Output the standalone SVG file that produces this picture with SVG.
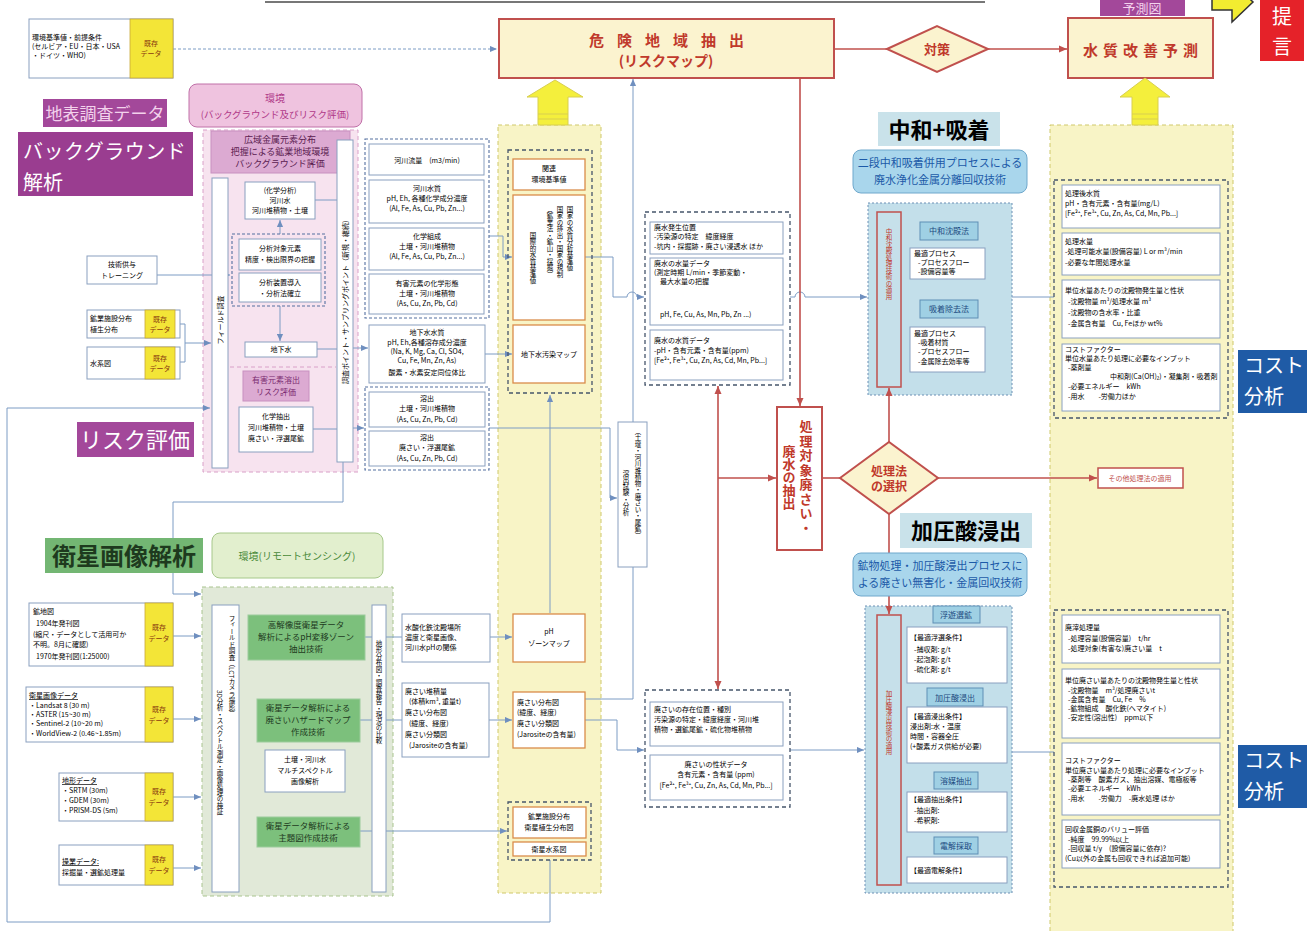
<svg xmlns="http://www.w3.org/2000/svg" width="1314" height="931" viewBox="0 0 1314 931">
<defs>
<style>
svg{font-family:"Noto Sans CJK JP","Noto Sans",sans-serif;font-size:7px}
text{font-family:"Noto Sans CJK JP","Noto Sans",sans-serif}
.m{text-anchor:middle}
.b{fill:#fff;stroke:#8aa0bf;stroke-width:1}
.o{fill:#fff;stroke:#d98c4a;stroke-width:1.3}
.y{fill:#f3e537;stroke:#c8a838;stroke-width:.8}
.yt{fill:#8a3a10;font-size:7px;text-anchor:middle}
.dg{fill:none;stroke:#45556b;stroke-width:1.3;stroke-dasharray:4 3}
.db{fill:none;stroke:#5570a0;stroke-width:1.1;stroke-dasharray:3 2}
.bl{fill:none;stroke:#7d9cc4;stroke-width:1}
.rl{fill:none;stroke:#c0504d;stroke-width:1.6}
.rb{fill:#fbf3cf;stroke:#c0504d;stroke-width:2}
.rt{fill:#c0392b;font-weight:bold}
.lb{fill:#9fd0e4;stroke:#5f8fb5;stroke-width:1}
.lt{fill:#1c4a80;font-size:8px;text-anchor:middle}
.gb{fill:#7cc07c;stroke:#9ccc9c;stroke-width:1}
.gt{fill:#1e3a1e;font-size:8.5px;text-anchor:middle}
.v{writing-mode:vertical-rl}
.u{text-decoration:underline}
.ya{fill:#f4ef3c;stroke:#d8cf50;stroke-width:1}
</style>
<marker id="ab" markerUnits="userSpaceOnUse" viewBox="0 0 8 8" refX="8" refY="4" markerWidth="7" markerHeight="7" orient="auto"><path d="M0,0.5L8,4L0,7.5z" fill="#6f8fbf"/></marker>
<marker id="ar" markerUnits="userSpaceOnUse" viewBox="0 0 8 8" refX="8" refY="4" markerWidth="8" markerHeight="8" orient="auto"><path d="M0,0.5L8,4L0,7.5z" fill="#c0504d"/></marker>
</defs>
<rect width="1314" height="931" fill="#fff"/>
<line x1="265" y1="2" x2="985" y2="2" stroke="#777" stroke-width="2"/>

<!-- background regions -->
<g id="region-pink"><rect x="203" y="130" width="155" height="342" fill="#f7e3ef" stroke="#d9a0c8" stroke-dasharray="4 3"/><line x1="230" y1="367" x2="336" y2="367" stroke="#d9a0c8" stroke-dasharray="4 3"/></g>
<g id="region-yellow-mid"><rect x="498" y="125" width="103" height="768" fill="#f8f4c6" stroke="#cfc86a" stroke-dasharray="4 3"/></g>
<g id="region-yellow-right"><rect x="1050" y="125" width="183" height="815" fill="#f8f4c6" stroke="#cfc86a" stroke-dasharray="4 3"/></g>
<g id="region-green"><rect x="202" y="587" width="191" height="309" fill="#e1e9d8" stroke="#a9c48f" stroke-dasharray="4 3"/></g>
<g id="region-blue1"><rect x="868" y="203" width="144" height="192" fill="#c3dfea" stroke="#6d90b5" stroke-dasharray="2 2"/></g>
<g id="region-blue2"><rect x="865" y="606" width="147" height="287" fill="#c3dfea" stroke="#6d90b5" stroke-dasharray="2 2"/></g>

<!-- connectors -->
<g id="connectors">
<path class="bl" d="M173,49H497" stroke-dasharray="3 2" marker-end="url(#ab)"/>
<path class="bl" d="M157,275H230" marker-end="url(#ab)"/>
<path class="bl" d="M180,324H185V362H180M185,343H211" marker-end="url(#ab)"/>
<path class="bl" d="M550,860V922H7V408H210" marker-end="url(#ab)"/>
<path class="bl" d="M343,462V502H173V594H201" marker-end="url(#ab)"/>
<path class="bl" d="M173,636H201" marker-end="url(#ab)"/>
<path class="bl" d="M173,719H201" marker-end="url(#ab)"/>
<path class="bl" d="M173,797H201" marker-end="url(#ab)"/>
<path class="bl" d="M173,868H201" marker-end="url(#ab)"/>
<path class="bl" d="M280,234V220" marker-end="url(#ab)"/>
<path class="bl" d="M280,306V341" marker-end="url(#ab)"/>
<path class="bl" d="M317,349H337M313,429H337M315,200H337"/>
<path class="bl" d="M353,348H368" marker-end="url(#ab)"/>
<path class="bl" d="M353,428H364" marker-end="url(#ab)"/>
<path class="bl" d="M485,354H512" marker-end="url(#ab)"/>
<path class="bl" d="M489,236H503V257H512" marker-end="url(#ab)"/>
<path class="bl" d="M489,428H610V498H617" marker-end="url(#ab)"/>
<path class="bl" d="M550,613V395" marker-end="url(#ab)"/>
<path class="bl" d="M585,257H613V297H627a5,5 0 0 1 10,0H644" marker-end="url(#ab)"/>
<path class="bl" d="M585,699H633V79" marker-end="url(#ab)"/>
<path class="bl" d="M585,720H617V750H644" marker-end="url(#ab)"/>
<path class="bl" d="M365,637H402M490,637H512" marker-end="url(#ab)"/>
<path class="bl" d="M360,720H402M489,720H512" marker-end="url(#ab)"/>
<path class="bl" d="M360,831H507" marker-end="url(#ab)"/>
<path class="bl" d="M790,297H795a5,5 0 0 1 10,0H867" marker-end="url(#ab)"/>
<path class="bl" d="M790,750H864" marker-end="url(#ab)"/>
<path class="bl" d="M1012,297H1054M1012,752H1054"/>
<path class="rl" d="M834,49H887"/>
<path class="rl" d="M988,49H1067" marker-end="url(#ar)"/>
<path class="rl" d="M800,78V406" marker-end="url(#ar)"/>
<path class="rl" d="M718,478H776" marker-end="url(#ar)"/>
<path class="rl" d="M718,478V386" marker-end="url(#ar)"/>
<path class="rl" d="M718,478V689" marker-end="url(#ar)"/>
<path class="rl" d="M822,478H840"/>
<path class="rl" d="M889,442V388" marker-end="url(#ar)"/>
<path class="rl" d="M889,514V614" marker-end="url(#ar)"/>
<path class="rl" d="M938,478H1097" marker-end="url(#ar)"/>
</g>

<!-- top row -->
<g id="env-standards"><rect class="b" x="29" y="19" width="144" height="59"/><rect class="y" x="130" y="19" width="43" height="59"/>
<text x="32" y="40">環境基準値・前提条件</text><text x="32" y="49">(セルビア・EU・日本・USA</text><text x="32" y="58">・ドイツ・WHO)</text>
<text class="yt" x="151" y="46">既存</text><text class="yt" x="151" y="56">データ</text></g>
<g id="risk-map"><rect class="rb" x="499" y="19" width="335" height="59"/><text class="m rt" x="673" y="46" font-size="15" letter-spacing="13">危険地域抽出</text><text class="m rt" x="666" y="66" font-size="14">(リスクマップ)</text></g>
<g id="taisaku"><polygon points="887,49 937,26 988,49 937,72" fill="#fbf3cf" stroke="#c0504d" stroke-width="2"/><text class="m rt" x="937" y="54" font-size="13">対策</text></g>
<g id="water-forecast"><rect class="rb" x="1068" y="18" width="145" height="60"/><text class="m rt" x="1143" y="56" font-size="15" letter-spacing="5">水質改善予測</text></g>
<g id="yosokuzu"><rect x="1100" y="-2" width="85" height="18" fill="#a3489a"/><text class="m" x="1142" y="13" font-size="13" fill="#f3d2ec">予測図</text></g>
<g id="arrow-right"><polygon points="1212,-12 1232,-12 1232,-18 1253,2 1232,22 1232,10 1212,10" fill="#f2ec30" stroke="#333" stroke-width="1.5"/></g>
<g id="teigen"><rect x="1260" y="-2" width="44" height="63" fill="#e52229"/><text class="m" x="1282" y="24" font-size="20" fill="#fff">提</text><text class="m" x="1282" y="54" font-size="20" fill="#fff">言</text></g>
<g id="up-arrow-1"><polygon class="ya" points="555,80 583,97 568,97 568,125 538,125 538,97 527,97"/><line x1="538" y1="114" x2="568" y2="114" stroke="#d8cf50"/><line x1="538" y1="119" x2="568" y2="119" stroke="#d8cf50"/></g>
<g id="up-arrow-2"><polygon class="ya" points="1145,78 1170,97 1158,97 1158,125 1132,125 1132,97 1120,97"/><line x1="1132" y1="114" x2="1158" y2="114" stroke="#d8cf50"/><line x1="1132" y1="119" x2="1158" y2="119" stroke="#d8cf50"/></g>

<!-- left labels -->
<g id="lbl-chihyo"><rect x="43" y="99" width="124" height="28" fill="#a3489a"/><text class="m" x="105" y="120" font-size="17" fill="#f3d2ec">地表調査データ</text></g>
<g id="lbl-bg"><rect x="18" y="132" width="175" height="64" fill="#9a3d90"/><text x="23" y="159" font-size="20" fill="#fff" letter-spacing="0.5">バックグラウンド</text><text x="23" y="190" font-size="20" fill="#fff">解析</text></g>
<g id="lbl-risk"><rect x="77" y="422" width="117" height="35" fill="#a3489a"/><text class="m" x="135" y="448" font-size="22" fill="#fff">リスク評価</text></g>
<g id="env-bg"><rect x="189" y="84" width="173" height="43" rx="8" fill="#efc3df" stroke="#c070a8"/><text class="m" x="275" y="102" font-size="10" fill="#b03888">環境</text><text class="m" x="275" y="118" font-size="9.5" fill="#b03888">(バックグラウンド及びリスク評価)</text></g>

<g id="gijutsu"><rect class="b" x="87" y="256" width="70" height="28"/><text class="m" x="122" y="267">技術供与</text><text class="m" x="122" y="278">トレーニング</text></g>
<g id="kogyo-shisetsu"><rect class="b" x="87" y="310" width="93" height="28"/><rect class="y" x="145" y="310" width="30" height="28"/><text x="90" y="321">鉱業施設分布</text><text x="90" y="332">植生分布</text><text class="yt" x="160" y="322">既存</text><text class="yt" x="160" y="332">データ</text></g>
<g id="suikeizu"><rect class="b" x="87" y="347" width="93" height="32"/><rect class="y" x="145" y="347" width="30" height="32"/><text x="90" y="366">水系図</text><text class="yt" x="160" y="361">既存</text><text class="yt" x="160" y="371">データ</text></g>

<!-- pink region nodes -->
<g id="koiki"><rect x="211" y="131" width="139" height="42" fill="#dcaad2" stroke="#c890c0"/><text class="m" x="280" y="143" font-size="9" fill="#5a2050">広域金属元素分布</text><text class="m" x="280" y="155" font-size="9" fill="#5a2050">把握による鉱業地域環境</text><text class="m" x="280" y="167" font-size="9" fill="#5a2050">バックグラウンド評価</text></g>
<g id="field-bar"><rect class="b" x="212" y="178" width="16" height="290"/><text class="m" transform="translate(223,320) rotate(-90)">フィールド調査</text></g>
<g id="kagaku-bunseki"><rect class="b" x="245" y="182" width="70" height="37"/><text class="m" x="280" y="193">(化学分析)</text><text class="m" x="280" y="203">河川水</text><text class="m" x="280" y="213">河川堆積物・土壌</text></g>
<g id="bunseki-group"><rect class="db" x="232" y="234" width="93" height="72"/><rect class="b" x="239" y="239" width="82" height="31"/><text class="m" x="280" y="251">分析対象元素</text><text class="m" x="280" y="262">精度・検出限界の把握</text><rect class="b" x="239" y="273" width="82" height="29"/><text class="m" x="280" y="285">分析装置導入</text><text class="m" x="280" y="296">・分析法確立</text></g>
<g id="chikasui"><rect class="b" x="245" y="342" width="72" height="15"/><text class="m" x="281" y="352">地下水</text></g>
<g id="yugai-risk"><rect x="243" y="371" width="66" height="30" fill="#dcaad2" stroke="#c890c0"/><text class="m" x="276" y="383" font-size="8" fill="#7a2a70">有害元素溶出</text><text class="m" x="276" y="395" font-size="8" fill="#7a2a70">リスク評価</text></g>
<g id="kagaku-chushutsu"><rect class="b" x="239" y="407" width="74" height="45"/><text class="m" x="276" y="419">化学抽出</text><text class="m" x="276" y="430">河川堆積物・土壌</text><text class="m" x="276" y="441">廃さい・浮選尾鉱</text></g>
<g id="sample-bar"><rect class="b" x="337" y="140" width="16" height="322"/><text class="m" transform="translate(348,300) rotate(-90)">調査ポイント・サンプリングポイント（新規・継続）</text></g>

<!-- middle data -->
<g id="mid-group"><rect class="db" x="365" y="139" width="124" height="179"/>
<rect class="b" x="369" y="144" width="115" height="31"/><text class="m" x="427" y="163">河川流量　(m3/min)</text>
<rect class="b" x="369" y="180" width="115" height="43"/><text class="m" x="427" y="191">河川水質</text><text class="m" x="427" y="201">pH, Eh, 各種化学成分濃度</text><text class="m" x="427" y="211">(Al, Fe, As, Cu, Pb, Zn...)</text>
<rect class="b" x="369" y="228" width="115" height="42"/><text class="m" x="427" y="239">化学組成</text><text class="m" x="427" y="249">土壌・河川堆積物</text><text class="m" x="427" y="259">(Al, Fe, As, Cu, Pb, Zn...)</text>
<rect class="b" x="369" y="274" width="115" height="40"/><text class="m" x="427" y="286">有害元素の化学形態</text><text class="m" x="427" y="296">土壌・河川堆積物</text><text class="m" x="427" y="306">(As, Cu, Zn, Pb, Cd)</text></g>
<g id="chikasui-suishitsu"><rect class="b" x="369" y="325" width="116" height="58"/><text class="m" x="427" y="335">地下水水質</text><text class="m" x="427" y="345">pH, Eh,各種溶存成分濃度</text><text class="m" x="427" y="354">(Na, K, Mg, Ca, Cl, SO4,</text><text class="m" x="427" y="363">Cu, Fe, Mn, Zn, As)</text><text class="m" x="427" y="375">酸素・水素安定同位体比</text></g>
<g id="yoshutsu-group"><rect class="db" x="365" y="387" width="124" height="83"/>
<rect class="b" x="369" y="392" width="116" height="35"/><text class="m" x="427" y="401">溶出</text><text class="m" x="427" y="411">土壌・河川堆積物</text><text class="m" x="427" y="422">(As, Cu, Zn, Pb, Cd)</text>
<rect class="b" x="369" y="431" width="116" height="35"/><text class="m" x="427" y="440">溶出</text><text class="m" x="427" y="450">廃さい・浮選尾鉱</text><text class="m" x="427" y="461">(As, Cu, Zn, Pb, Cd)</text></g>

<!-- yellow mid column -->
<g id="kijun-group"><rect class="dg" x="508" y="150" width="84" height="243"/>
<rect class="o" x="513" y="159" width="72" height="31"/><text class="m" x="549" y="171">関連</text><text class="m" x="549" y="182">環境基準値</text>
<rect class="o" x="513" y="195" width="72" height="125"/>
<text class="v" x="570" y="206" font-size="6.5">国家の水質分析基準値</text>
<text class="v" x="560" y="206" font-size="6.5">国家の排出・国家の規制</text>
<text class="v" x="550" y="206" font-size="6.5">（鉱業法・鉱山・採掘）</text>
<text class="v" x="533" y="232" font-size="6.5">国際的水質基準値</text>
<rect class="o" x="513" y="325" width="72" height="58"/><text class="m" x="549" y="357">地下水汚染マップ</text></g>
<g id="ph-zone"><rect class="o" x="513" y="614" width="72" height="48"/><text class="m" x="549" y="634">pH</text><text class="m" x="549" y="646">ゾーンマップ</text></g>
<g id="haisai-map"><rect class="o" x="513" y="692" width="72" height="56"/><text x="517" y="705">廃さい分布図</text><text x="517" y="715">(緯度、経度)</text><text x="517" y="726">廃さい分類図</text><text x="517" y="737">(Jarositeの含有量)</text></g>
<g id="eisei-group"><rect class="dg" x="508" y="802" width="83" height="58"/><rect class="o" x="513" y="807" width="73" height="31"/><text class="m" x="549" y="819">鉱業施設分布</text><text class="m" x="549" y="830">衛星植生分布図</text><rect class="o" x="513" y="842" width="73" height="14"/><text class="m" x="549" y="852">衛星水系図</text></g>
<g id="yoshutsu-shiken"><rect class="b" x="618" y="422" width="29" height="145"/><text class="v" x="638" y="428" font-size="6.5">（土壌・河川堆積物・廃さい・尾鉱）</text><text class="v" x="626" y="470" font-size="6.5">溶出試験・分析</text></g>

<!-- haisui groups -->
<g id="haisui-group"><rect class="dg" x="645" y="212" width="145" height="173"/>
<rect class="b" x="650" y="222" width="133" height="32"/><text x="654" y="230">廃水発生位置</text><text x="654" y="239">-汚染源の特定　緯度経度</text><text x="654" y="249">-坑内・採掘跡・廃さい浸透水 ほか</text>
<rect class="b" x="650" y="258" width="133" height="67"/><text x="654" y="266">廃水の水量データ</text><text x="654" y="275">(測定時期 L/min・季節変動・</text><text x="660" y="284">最大水量の把握</text><text x="660" y="317">pH, Fe, Cu, As, Mn, Pb, Zn ...)</text>
<rect class="b" x="650" y="330" width="133" height="50"/><text x="654" y="343">廃水の水質データ</text><text x="654" y="353">-pH・含有元素・含有量(ppm)</text><text x="654" y="363">[Fe²⁺, Fe³⁺, Cu, Zn, As, Cd, Mn, Pb...]</text></g>
<g id="haisai-group"><rect class="dg" x="645" y="690" width="145" height="117"/>
<rect class="b" x="650" y="702" width="133" height="44"/><text x="654" y="712">廃さいの存在位置・種別</text><text x="654" y="722">汚染源の特定・緯度経度・河川堆</text><text x="654" y="732">積物・選鉱尾鉱・硫化物堆積物</text>
<rect class="b" x="650" y="755" width="133" height="45"/><text class="m" x="716" y="767">廃さいの性状データ</text><text class="m" x="716" y="777">含有元素・含有量 (ppm)</text><text class="m" x="716" y="788">[Fe²⁺, Fe³⁺, Cu, Zn, As, Cd, Mn, Pb...]</text></g>
<g id="shori-taisho"><rect x="777" y="407" width="45" height="143" fill="#fff" stroke="#c0504d" stroke-width="2"/><text class="v rt" x="806" y="420" font-size="13" letter-spacing="1.5">処理対象廃さい・</text><text class="v rt" x="789" y="445" font-size="13">廃水の抽出</text></g>
<g id="shoriho"><polygon points="840,478 889,442 938,478 889,514" fill="#fbf3cf" stroke="#c0504d" stroke-width="2"/><text class="m rt" x="889" y="476" font-size="12">処理法</text><text class="m rt" x="889" y="491" font-size="12">の選択</text></g>

<!-- neutralization -->
<g id="lbl-chuwa"><rect x="878" y="112" width="122" height="34" fill="#c9e2ea"/><text class="m" x="939" y="138" font-size="22" font-weight="bold">中和+吸着</text></g>
<g id="chuwa-tech"><rect x="853" y="150" width="174" height="43" rx="8" fill="#a9d6ec" stroke="#6fa8cc"/><text class="m" x="940" y="167" font-size="11" fill="#1c5aa8">二段中和吸着併用プロセスによる</text><text class="m" x="940" y="184" font-size="11" fill="#1c5aa8">廃水浄化金属分離回収技術</text></g>
<g id="chuwa-nodes"><rect x="877" y="212" width="24" height="175" fill="#c6e0ea" stroke="#c0504d" stroke-width="1.5"/><text class="v" x="889" y="228" font-size="6.5" fill="#c0392b">中和沈殿処理技術の適用</text>
<rect class="lb" x="920" y="222" width="58" height="18"/><text class="lt" x="949" y="234">中和沈殿法</text>
<rect class="b" x="910" y="248" width="75" height="31"/><text x="914" y="256">最適プロセス</text><text x="918" y="265">-プロセスフロー</text><text x="918" y="274">-設備容量等</text>
<rect class="lb" x="920" y="300" width="58" height="18"/><text class="lt" x="949" y="312">吸着除去法</text>
<rect class="b" x="910" y="327" width="75" height="45"/><text x="914" y="336">最適プロセス</text><text x="918" y="345">-吸着材質</text><text x="918" y="354">-プロセスフロー</text><text x="918" y="364">-金属除去効率等</text></g>

<!-- pressure leaching -->
<g id="lbl-kaatsu"><rect x="900" y="513" width="132" height="35" fill="#c9e2ea"/><text class="m" x="966" y="539" font-size="22" font-weight="bold">加圧酸浸出</text></g>
<g id="kaatsu-tech"><rect x="853" y="553" width="174" height="43" rx="8" fill="#a9d6ec" stroke="#6fa8cc"/><text class="m" x="940" y="570" font-size="11" fill="#1c5aa8">鉱物処理・加圧酸浸出プロセスに</text><text class="m" x="940" y="587" font-size="11" fill="#1c5aa8">よる廃さい無害化・金属回収技術</text></g>
<g id="kaatsu-nodes"><rect x="877" y="615" width="24" height="270" fill="#c6e0ea" stroke="#c0504d" stroke-width="1.5"/><text class="v" x="889" y="690" font-size="6.5" fill="#c0392b">加圧酸浸出技術の適用</text>
<rect class="lb" x="933" y="606" width="47" height="17"/><text class="lt" x="956" y="618">浮遊選鉱</text>
<rect class="b" x="907" y="627" width="100" height="56"/><text x="910" y="640">【最適浮選条件】</text><text x="914" y="652">-捕収剤: g/t</text><text x="914" y="662">-起泡剤: g/t</text><text x="914" y="672">-硫化剤: g/t</text>
<rect class="lb" x="927" y="688" width="56" height="18"/><text class="lt" x="955" y="701">加圧酸浸出</text>
<rect class="b" x="907" y="707" width="100" height="56"/><text x="910" y="719">【最適浸出条件】</text><text x="910" y="729">浸出剤:水・温度</text><text x="910" y="739">時間・容器全圧</text><text x="910" y="749">(+酸素ガス供給が必要)</text>
<rect class="lb" x="934" y="772" width="44" height="17"/><text class="lt" x="956" y="784">溶媒抽出</text>
<rect class="b" x="907" y="792" width="100" height="40"/><text x="910" y="802">【最適抽出条件】</text><text x="914" y="813">-抽出剤:</text><text x="914" y="823">-希釈剤:</text>
<rect class="lb" x="934" y="837" width="44" height="17"/><text class="lt" x="956" y="849">電解採取</text>
<rect class="b" x="907" y="857" width="100" height="26"/><text x="910" y="873">【最適電解条件】</text></g>

<!-- right column -->
<g id="right-group-1"><rect class="dg" x="1054" y="180" width="174" height="238"/>
<rect class="b" x="1062" y="185" width="158" height="43"/><text x="1065" y="196">処理後水質</text><text x="1065" y="206">pH・含有元素・含有量(mg/L)</text><text x="1065" y="216">[Fe²⁺, Fe³⁺, Cu, Zn, As, Cd, Mn, Pb...]</text>
<rect class="b" x="1062" y="233" width="158" height="42"/><text x="1065" y="244">処理水量</text><text x="1065" y="254"> -処理可能水量(設備容量) L or m³/min</text><text x="1065" y="265"> -必要な年間処理水量</text>
<rect class="b" x="1062" y="280" width="158" height="58"/><text x="1065" y="293">単位水量あたりの沈殿物発生量と性状</text><text x="1068" y="304">-沈殿物量 m³/処理水量 m³</text><text x="1068" y="315">-沈殿物の含水率・比重</text><text x="1068" y="326">-金属含有量　Cu, Feほか wt%</text>
<rect class="b" x="1062" y="344" width="158" height="67"/><text x="1065" y="352">コストファクター</text><text x="1065" y="361">単位水量あたり処理に必要なインプット</text><text x="1068" y="370">-薬剤量</text><text x="1110" y="379">中和剤(Ca(OH)₂)・凝集剤・吸着剤</text><text x="1068" y="389">-必要エネルギー　kWh</text><text x="1068" y="399">-用水　　-労働力ほか</text></g>
<g id="sonota"><rect x="1098" y="468" width="85" height="20" fill="#fff" stroke="#c0504d" stroke-width="1.5"/><text class="m" x="1140" y="481" fill="#c0504d">その他処理法の適用</text></g>
<g id="right-group-2"><rect class="dg" x="1054" y="610" width="174" height="277"/>
<rect class="b" x="1062" y="615" width="158" height="48"/><text x="1065" y="630">廃滓処理量</text><text x="1068" y="641">-処理容量(設備容量)　t/hr</text><text x="1068" y="651">-処理対象(有害な)廃さい量　t</text>
<rect class="b" x="1062" y="669" width="158" height="69"/><text x="1065" y="683">単位廃さい量あたりの沈殿物発生量と性状</text><text x="1068" y="693">-沈殿物量　m³/処理廃さいt</text><text x="1068" y="702">-金属含有量　Cu, Fe　%</text><text x="1068" y="711">-鉱物組成　酸化鉄(ヘマタイト)</text><text x="1068" y="720">-安定性(溶出性)　ppm以下</text>
<rect class="b" x="1062" y="743" width="158" height="72"/><text x="1065" y="763">コストファクター</text><text x="1065" y="773">単位廃さい量あたり処理に必要なインプット</text><text x="1068" y="782">-薬剤等　酸素ガス、抽出溶媒、電極板等</text><text x="1068" y="791">-必要エネルギー　kWh</text><text x="1068" y="801">-用水　　-労働力　-廃水処理 ほか</text>
<rect class="b" x="1062" y="820" width="158" height="48"/><text x="1065" y="832">回収金属銅のバリュー評価</text><text x="1068" y="842">-純度　99.99%以上</text><text x="1068" y="851">-回収量 t/y　(設備容量に依存)?</text><text x="1065" y="861">(Cu以外の金属も回収できれば追加可能)</text></g>
<g id="cost-1"><rect x="1238" y="350" width="69" height="63" fill="#1f5ba6"/><text x="1244" y="373" font-size="20" fill="#fff">コスト</text><text x="1244" y="404" font-size="20" fill="#fff">分析</text></g>
<g id="cost-2"><rect x="1238" y="745" width="69" height="63" fill="#1f5ba6"/><text x="1244" y="768" font-size="20" fill="#fff">コスト</text><text x="1244" y="799" font-size="20" fill="#fff">分析</text></g>

<!-- satellite section -->
<g id="lbl-eisei"><rect x="45" y="538" width="158" height="35" fill="#73b673"/><text class="m" x="124" y="565" font-size="24" font-weight="bold" fill="#1e3a1e">衛星画像解析</text></g>
<g id="env-rs"><rect x="212" y="533" width="171" height="45" rx="8" fill="#e2efce" stroke="#a6c88a"/><text class="m" x="297" y="560" font-size="10" fill="#4a8a3a">環境(リモートセンシング)</text></g>
<g id="rs-left-bar"><rect class="b" x="212" y="605" width="27" height="287"/><text class="v" x="232" y="615" font-size="6.5">フィールド調査（LCTカメラ撮影）</text><text class="v" x="220" y="690" font-size="6.5">3D分析・スペクトル測定・画像処理の検証</text></g>
<g id="rs-right-bar"><rect class="b" x="372" y="605" width="14" height="287"/><text class="v" x="379" y="640" font-size="6.5">地形分布図・調査報告・現況の比較</text></g>
<g id="rs-ph"><rect class="gb" x="248" y="615" width="117" height="45"/><text class="gt" x="306" y="628">高解像度衛星データ</text><text class="gt" x="306" y="640">解析によるpH変移ゾーン</text><text class="gt" x="306" y="652">抽出技術</text></g>
<g id="rs-hazard"><rect class="gb" x="257" y="699" width="103" height="43"/><text class="gt" x="308" y="711">衛星データ解析による</text><text class="gt" x="308" y="723">廃さいハザードマップ</text><text class="gt" x="308" y="735">作成技術</text></g>
<g id="rs-multi"><rect class="b" x="265" y="750" width="80" height="42"/><text class="m" x="305" y="762">土壌・河川水</text><text class="m" x="305" y="773">マルチスペクトル</text><text class="m" x="305" y="784">画像解析</text></g>
<g id="rs-thematic"><rect class="gb" x="257" y="817" width="103" height="30"/><text class="gt" x="308" y="829">衛星データ解析による</text><text class="gt" x="308" y="841">主題図作成技術</text></g>
<g id="suisanka"><rect class="b" x="402" y="614" width="88" height="48"/><text x="405" y="630">水酸化鉄沈殿場所</text><text x="405" y="640">濃度と衛星画像、</text><text x="405" y="650">河川水pHの関係</text></g>
<g id="haisai-taiseki"><rect class="b" x="402" y="683" width="87" height="74"/><text x="405" y="694">廃さい堆積量</text><text x="409" y="704">(体積km³, 重量t)</text><text x="405" y="715">廃さい分布図</text><text x="409" y="726">(緯度、経度)</text><text x="405" y="737">廃さい分類図</text><text x="409" y="748">(Jarositeの含有量)</text></g>

<g id="kochizu"><rect class="b" x="29" y="603" width="144" height="63"/><rect class="y" x="145" y="603" width="28" height="63"/><text x="33" y="614">鉱地図</text><text x="36" y="626">1904年発刊図</text><text x="33" y="637">(縮尺・データとして活用可か</text><text x="33" y="647">不明。8月に確認)</text><text x="36" y="659">1970年発刊図(1:25000)</text><text class="yt" x="159" y="630">既存</text><text class="yt" x="159" y="641">データ</text></g>
<g id="eisei-data"><rect class="b" x="26" y="687" width="147" height="55"/><rect class="y" x="145" y="687" width="28" height="55"/><text class="u" x="29" y="698">衛星画像データ</text><text x="29" y="708">・Landsat 8 (30 m)</text><text x="29" y="717">・ASTER (15~30 m)</text><text x="29" y="726">・Sentinel-2 (10~20 m)</text><text x="29" y="736">・WorldView-2 (0.46~1.85m)</text><text class="yt" x="159" y="712">既存</text><text class="yt" x="159" y="723">データ</text></g>
<g id="chikei-data"><rect class="b" x="59" y="773" width="114" height="48"/><rect class="y" x="145" y="773" width="28" height="48"/><text class="u" x="62" y="783">地形データ</text><text x="62" y="793">・SRTM (30m)</text><text x="62" y="803">・GDEM (30m)</text><text x="62" y="813">・PRISM-DS (5m)</text><text class="yt" x="159" y="794">既存</text><text class="yt" x="159" y="805">データ</text></g>
<g id="sogyo-data"><rect class="b" x="59" y="845" width="114" height="40"/><rect class="y" x="145" y="845" width="28" height="40"/><text class="u" x="62" y="864">操業データ:</text><text x="62" y="875">採掘量・選鉱処理量</text><text class="yt" x="159" y="862">既存</text><text class="yt" x="159" y="873">データ</text></g>
</svg>
